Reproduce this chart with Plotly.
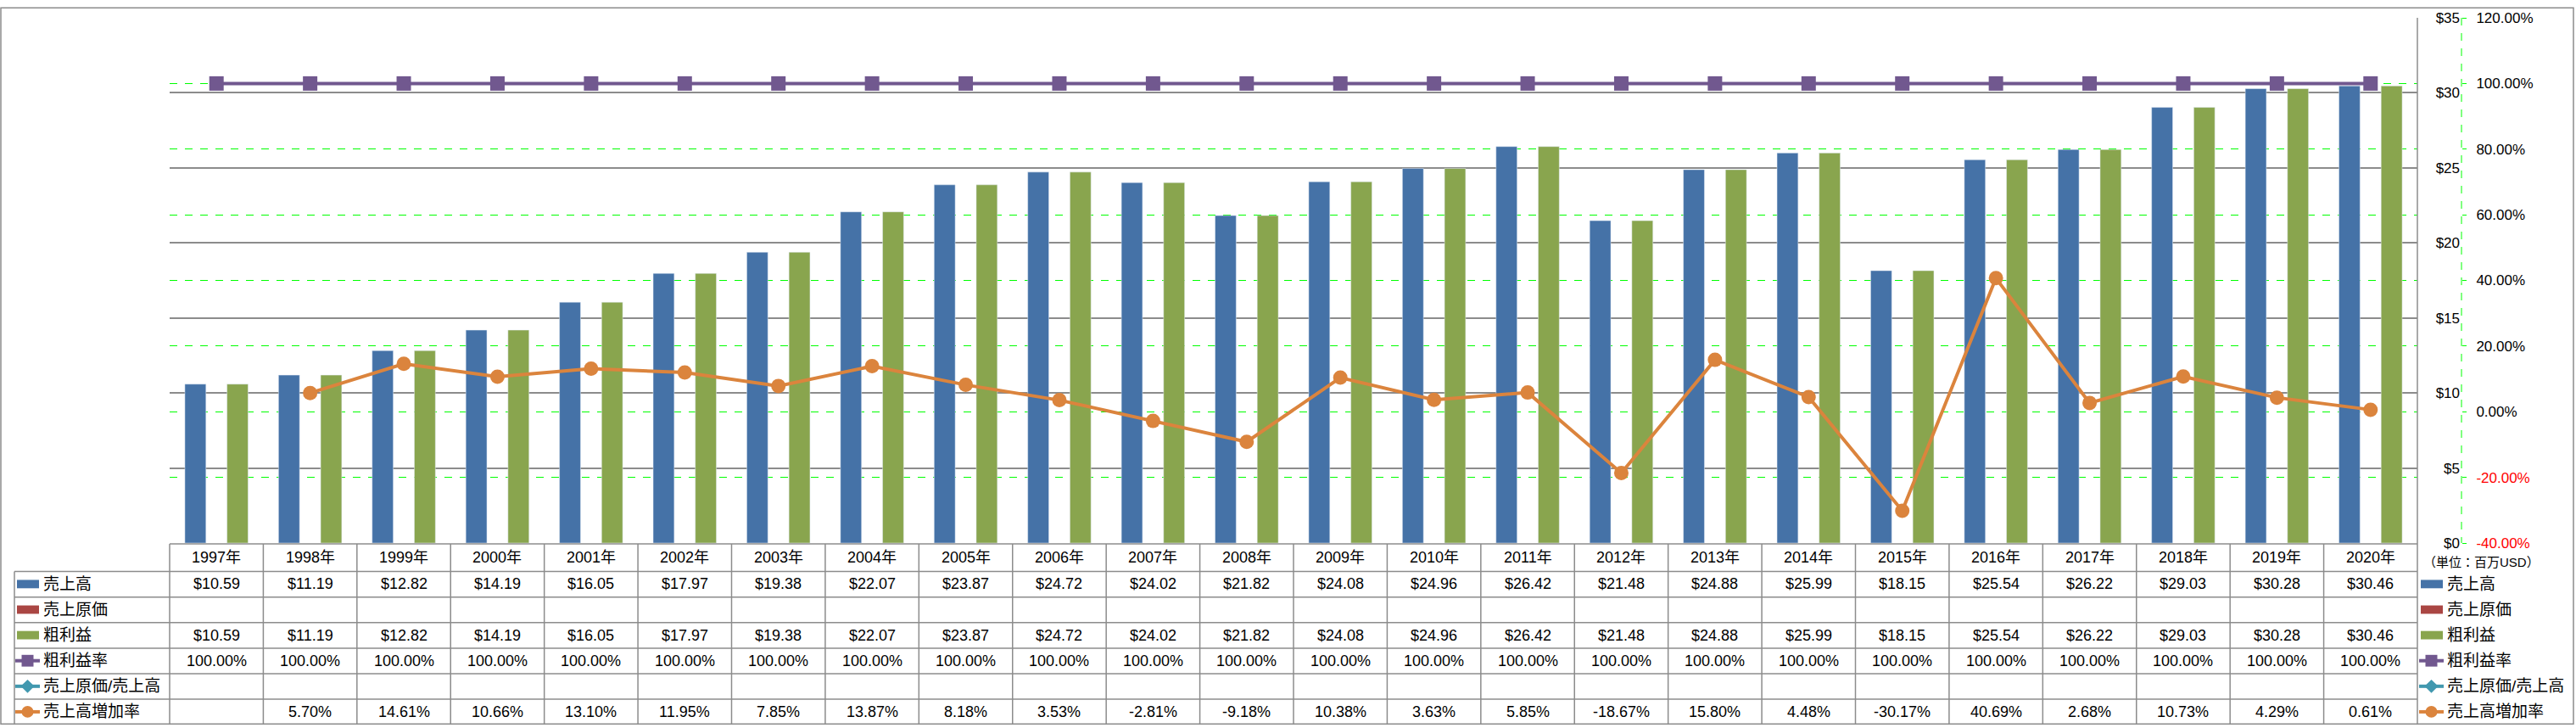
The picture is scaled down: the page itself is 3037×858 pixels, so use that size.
import plotly.graph_objects as go

# ---------------- data ----------------
years = ["1997年", "1998年", "1999年", "2000年", "2001年", "2002年", "2003年", "2004年",
         "2005年", "2006年", "2007年", "2008年", "2009年", "2010年", "2011年", "2012年",
         "2013年", "2014年", "2015年", "2016年", "2017年", "2018年", "2019年", "2020年"]
sales = [10.59, 11.19, 12.82, 14.19, 16.05, 17.97, 19.38, 22.07, 23.87, 24.72, 24.02, 21.82,
         24.08, 24.96, 26.42, 21.48, 24.88, 25.99, 18.15, 25.54, 26.22, 29.03, 30.28, 30.46]
cogs = [None] * 24
gross = [10.59, 11.19, 12.82, 14.19, 16.05, 17.97, 19.38, 22.07, 23.87, 24.72, 24.02, 21.82,
         24.08, 24.96, 26.42, 21.48, 24.88, 25.99, 18.15, 25.54, 26.22, 29.03, 30.28, 30.46]
gross_margin = [100.00] * 24
cogs_ratio = [None] * 24
growth = [None, 5.70, 14.61, 10.66, 13.10, 11.95, 7.85, 13.87, 8.18, 3.53, -2.81, -9.18,
          10.38, 3.63, 5.85, -18.67, 15.80, 4.48, -30.17, 40.69, 2.68, 10.73, 4.29, 0.61]
usd_ticks = [0, 5, 10, 15, 20, 25, 30, 35]
pct_ticks = [-40, -20, 0, 20, 40, 60, 80, 100, 120]
unit_label = "（単位：百万USD）"

series_names = ["売上高", "売上原価", "粗利益", "粗利益率", "売上原価/売上高", "売上高増加率"]
colors = {"売上高": "#4572A7", "売上原価": "#AA4643", "粗利益": "#89A54E",
          "粗利益率": "#71588F", "売上原価/売上高": "#4198AF", "売上高増加率": "#DB843D"}

# ---------------- geometry ----------------
W, H = 3037, 858
ML, MR, MT, MB = 200, 100, 13, 218
PW = W - ML - MR
PH = H - MT - MB
PLOT_R = 2850
GRAY = "#8C8C8C"
FONT = "Liberation Sans, Noto Sans CJK JP, sans-serif"


def X(px):
    return (px - ML) / PW


def Y(py):
    return (H - MB - py) / PH


fig = go.Figure()

fig.add_trace(go.Bar(x=years, y=sales, name="売上高", marker_color=colors["売上高"], yaxis="y"))
fig.add_trace(go.Bar(x=years, y=cogs, name="売上原価", marker_color=colors["売上原価"], yaxis="y"))
fig.add_trace(go.Bar(x=years, y=gross, name="粗利益", marker_color=colors["粗利益"], yaxis="y"))
fig.add_trace(go.Scatter(x=years, y=gross_margin, name="粗利益率", yaxis="y2", mode="lines+markers",
                         line=dict(color=colors["粗利益率"], width=4),
                         marker=dict(symbol="square", size=17, color=colors["粗利益率"])))
fig.add_trace(go.Scatter(x=years, y=cogs_ratio, name="売上原価/売上高", yaxis="y2", mode="lines+markers",
                         line=dict(color=colors["売上原価/売上高"], width=4),
                         marker=dict(symbol="diamond", size=17, color=colors["売上原価/売上高"])))
fig.add_trace(go.Scatter(x=years, y=growth, name="売上高増加率", yaxis="y2", mode="lines+markers",
                         connectgaps=False,
                         line=dict(color=colors["売上高増加率"], width=4),
                         marker=dict(symbol="circle", size=17, color=colors["売上高増加率"])))

pct_text = []
for v in pct_ticks:
    s = f"{v:.2f}%"
    if v < 0:
        s = f"<span style='color:#FF0000'>{s}</span>"
    pct_text.append(s)

fig.update_layout(
    width=W, height=H,
    margin=dict(l=ML, r=MR, t=MT, b=MB, pad=0),
    paper_bgcolor="white", plot_bgcolor="white",
    showlegend=False,
    barmode="group", bargap=0.325, bargroupgap=0,
    font=dict(family=FONT, size=18, color="black"),
    xaxis=dict(type="category", domain=[0, X(PLOT_R)], range=[-0.5, 23.5],
               showticklabels=False, showgrid=False, zeroline=False, ticks="",
               showline=False),
    yaxis=dict(range=[0, 35], tickvals=usd_ticks, ticktext=[f"${v}" for v in usd_ticks],
               anchor="free", position=X(2900), side="left", showline=False, ticks="",
               showgrid=True, gridcolor=GRAY, gridwidth=1.5, zeroline=False,
               tickfont=dict(size=17, family=FONT)),
    yaxis2=dict(range=[-40, 120], tickvals=pct_ticks, ticktext=pct_text,
                overlaying="y", anchor="free", position=X(2902), side="right",
                showline=False, ticks="outside", ticklen=5, tickwidth=1, tickcolor="#00FF00",
                ticklabelstandoff=8,
                showgrid=True, gridcolor="#00FF00", gridwidth=1, griddash="dash", zeroline=False,
                tickfont=dict(size=17, family=FONT)),
)

shapes = []
# outer chart border
shapes.append(dict(type="rect", xref="paper", yref="paper", x0=X(1), x1=X(3034), y0=Y(1), y1=Y(856),
                   line=dict(color=GRAY, width=1.5), fillcolor="rgba(0,0,0,0)", layer="below"))
# green secondary axis line
shapes.append(dict(type="line", xref="paper", yref="paper", x0=X(2902), x1=X(2902), y0=Y(13), y1=Y(640),
                   line=dict(color="#00FF00", width=1, dash="dash")))
# right plot edge / table right border
shapes.append(dict(type="line", xref="paper", yref="paper", x0=X(PLOT_R), x1=X(PLOT_R), y0=Y(13), y1=Y(856),
                   line=dict(color=GRAY, width=1.5)))
# table: header top line
shapes.append(dict(type="line", xref="paper", yref="paper", x0=X(200), x1=X(PLOT_R), y0=Y(641), y1=Y(641),
                   line=dict(color=GRAY, width=1.5)))
row_edges = [674, 704.5, 735, 765.5, 796, 826.5]
for ry in row_edges:
    shapes.append(dict(type="line", xref="paper", yref="paper", x0=X(17), x1=X(PLOT_R), y0=Y(ry), y1=Y(ry),
                       line=dict(color=GRAY, width=1.5)))
shapes.append(dict(type="line", xref="paper", yref="paper", x0=X(17), x1=X(17), y0=Y(674), y1=Y(856),
                   line=dict(color=GRAY, width=1.5)))
shapes.append(dict(type="line", xref="paper", yref="paper", x0=X(200), x1=X(200), y0=Y(641), y1=Y(856),
                   line=dict(color=GRAY, width=1.5)))
for i in range(len(years) - 1):
    shapes.append(dict(type="line", xref="x", yref="paper", x0=i + 0.5, x1=i + 0.5, y0=Y(641), y1=Y(856),
                       line=dict(color=GRAY, width=1.5)))

annotations = []
# header years
for yr in years:
    annotations.append(dict(x=yr, y=Y(657.5), xref="x", yref="paper", text=yr, showarrow=False,
                            font=dict(size=18), xanchor="center", yanchor="middle"))

row_centers = [689, 719.5, 750, 780.5, 811, 841.5]


def fmt_usd(v):
    return "" if v is None else f"${v:.2f}"


def fmt_pct(v):
    return "" if v is None else f"{v:.2f}%"


rows = [(sales, fmt_usd), (cogs, fmt_usd), (gross, fmt_usd),
        (gross_margin, fmt_pct), (cogs_ratio, fmt_pct), (growth, fmt_pct)]
for (vals, f), yc in zip(rows, row_centers):
    for yr, v in zip(years, vals):
        t = f(v)
        if t:
            annotations.append(dict(x=yr, y=Y(yc), xref="x", yref="paper", text=t, showarrow=False,
                                    font=dict(size=18), xanchor="center", yanchor="middle"))

kinds = {"売上高": "bar", "売上原価": "bar", "粗利益": "bar",
         "粗利益率": "square", "売上原価/売上高": "diamond", "売上高増加率": "circle"}


def add_key(x_left, yc, name):
    c = colors[name]
    k = kinds[name]
    if k == "bar":
        shapes.append(dict(type="rect", xref="paper", yref="paper", x0=X(x_left + 2), x1=X(x_left + 28),
                           y0=Y(yc + 5), y1=Y(yc - 5), line=dict(width=0), fillcolor=c))
    else:
        shapes.append(dict(type="line", xref="paper", yref="paper", x0=X(x_left), x1=X(x_left + 29),
                           y0=Y(yc), y1=Y(yc), line=dict(color=c, width=4)))
        cx = x_left + 14.5
        if k == "square":
            shapes.append(dict(type="rect", xref="paper", yref="paper", x0=X(cx - 7), x1=X(cx + 7),
                               y0=Y(yc + 7), y1=Y(yc - 7), line=dict(width=0), fillcolor=c))
        elif k == "circle":
            shapes.append(dict(type="circle", xref="paper", yref="paper", x0=X(cx - 7), x1=X(cx + 7),
                               y0=Y(yc + 7), y1=Y(yc - 7), line=dict(width=0), fillcolor=c))
        else:
            path = (f"M {X(cx - 8)} {Y(yc)} L {X(cx)} {Y(yc - 8)} L {X(cx + 8)} {Y(yc)} "
                    f"L {X(cx)} {Y(yc + 8)} Z")
            shapes.append(dict(type="path", xref="paper", yref="paper", path=path,
                               line=dict(width=0), fillcolor=c))


for name, yc in zip(series_names, row_centers):
    add_key(18, yc, name)
    annotations.append(dict(x=X(49), y=Y(yc), xref="paper", yref="paper", text=name, showarrow=False,
                            font=dict(size=19), xanchor="left", yanchor="middle"))
    add_key(2852, yc, name)
    annotations.append(dict(x=X(2883), y=Y(yc), xref="paper", yref="paper", text=name, showarrow=False,
                            font=dict(size=19), xanchor="left", yanchor="middle"))

annotations.append(dict(x=X(2925), y=Y(663), xref="paper", yref="paper", text=unit_label, showarrow=False,
                        font=dict(size=15), xanchor="center", yanchor="middle"))

fig.update_layout(shapes=shapes, annotations=annotations)

fig.write_html("out.html", config={"displayModeBar": False},
               post_script="document.body.style.margin='0';document.body.style.overflow='hidden';")
